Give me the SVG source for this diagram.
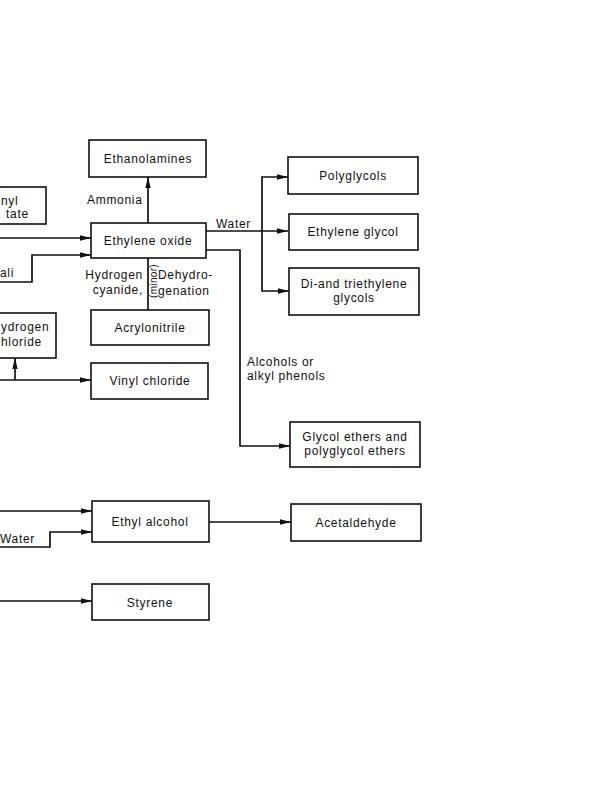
<svg xmlns="http://www.w3.org/2000/svg" width="594" height="800" viewBox="0 0 594 800">
<defs>
<style>
.box{fill:#fff;stroke:#111;stroke-width:1.6}
.t{font-family:"Liberation Sans",Arial,sans-serif;font-size:12px;fill:#111;letter-spacing:0.7px}
.c{text-anchor:middle}
.e{text-anchor:end}
.ln{fill:none;stroke:#111;stroke-width:1.7}
</style>
<marker id="ah" markerUnits="userSpaceOnUse" markerWidth="12" markerHeight="6" refX="11" refY="3" orient="auto">
<path d="M0,0.3 L11,3 L0,5.7 z" fill="#111"/>
</marker>
</defs>
<rect width="594" height="800" fill="#fff"/>
<g id="connectors">
<path class="ln" d="M0,238 H91" marker-end="url(#ah)"/>
<path class="ln" d="M0,282 H32 V255 H91" marker-end="url(#ah)"/>
<path class="ln" d="M148,223 V177" marker-end="url(#ah)"/>
<path class="ln" d="M206,231 H288" marker-end="url(#ah)"/>
<path class="ln" d="M262,231 V177 H288" marker-end="url(#ah)"/>
<path class="ln" d="M262,231 V291 H289" marker-end="url(#ah)"/>
<path class="ln" d="M206,250 H240 V446 H290" marker-end="url(#ah)"/>
<path class="ln" d="M148,258 V310"/>
<path class="ln" d="M0,380 H91" marker-end="url(#ah)"/>
<path class="ln" d="M15,380 V358" marker-end="url(#ah)"/>
<path class="ln" d="M0,511 H92" marker-end="url(#ah)"/>
<path class="ln" d="M0,547 H50 V532 H92" marker-end="url(#ah)"/>
<path class="ln" d="M209,522 H291" marker-end="url(#ah)"/>
<path class="ln" d="M0,601 H92" marker-end="url(#ah)"/>
</g>
<g id="labels">
<text class="t" x="87" y="204">Ammonia</text>
<text class="t" x="216" y="228">Water</text>
<text class="t e" x="143" y="279">Hydrogen</text>
<text class="t e" x="143" y="294">cyanide,</text>
<text class="t" x="158" y="279">Dehydro-</text>
<text class="t" x="158" y="295">genation</text>
<text class="t" transform="translate(157,281) rotate(-90)" text-anchor="middle" style="font-size:10px;letter-spacing:0.3px">(minor)</text>
<text class="t" x="247" y="366">Alcohols or</text>
<text class="t" x="247" y="380">alkyl phenols</text>
<text class="t" x="0" y="277">ali</text>
<text class="t" x="0" y="543">Water</text>
</g>
<g id="vinyl-acetate">
<rect class="box" x="-40" y="187" width="86" height="37"/>
<text class="t" x="1" y="205">nyl</text>
<text class="t" x="6" y="218">tate</text>
</g>
<g id="hydrogen-chloride">
<rect class="box" x="-40" y="313" width="96" height="45"/>
<text class="t" x="1" y="331">ydrogen</text>
<text class="t" x="1" y="346">hloride</text>
</g>
<g id="ethanolamines">
<rect class="box" x="89" y="140" width="117" height="37"/>
<text class="t c" x="148" y="163">Ethanolamines</text>
</g>
<g id="ethylene-oxide">
<rect class="box" x="91" y="223" width="115" height="35"/>
<text class="t c" x="148" y="245">Ethylene oxide</text>
</g>
<g id="acrylonitrile">
<rect class="box" x="91" y="310" width="118" height="35"/>
<text class="t c" x="150" y="332">Acrylonitrile</text>
</g>
<g id="vinyl-chloride">
<rect class="box" x="91" y="363" width="117" height="36"/>
<text class="t c" x="150" y="385">Vinyl chloride</text>
</g>
<g id="polyglycols">
<rect class="box" x="288" y="157" width="130" height="37"/>
<text class="t c" x="353" y="180">Polyglycols</text>
</g>
<g id="ethylene-glycol">
<rect class="box" x="289" y="214" width="129" height="36"/>
<text class="t c" x="353" y="236">Ethylene glycol</text>
</g>
<g id="di-triethylene-glycols">
<rect class="box" x="289" y="268" width="130" height="47"/>
<text class="t c" x="354" y="288">Di-and triethylene</text>
<text class="t c" x="354" y="302">glycols</text>
</g>
<g id="glycol-ethers">
<rect class="box" x="290" y="422" width="130" height="45"/>
<text class="t c" x="355" y="441">Glycol ethers and</text>
<text class="t c" x="355" y="455">polyglycol ethers</text>
</g>
<g id="ethyl-alcohol">
<rect class="box" x="92" y="501" width="117" height="41"/>
<text class="t c" x="150" y="526">Ethyl alcohol</text>
</g>
<g id="acetaldehyde">
<rect class="box" x="291" y="504" width="130" height="37"/>
<text class="t c" x="356" y="527">Acetaldehyde</text>
</g>
<g id="styrene">
<rect class="box" x="92" y="584" width="117" height="36"/>
<text class="t c" x="150" y="607">Styrene</text>
</g>
</svg>
